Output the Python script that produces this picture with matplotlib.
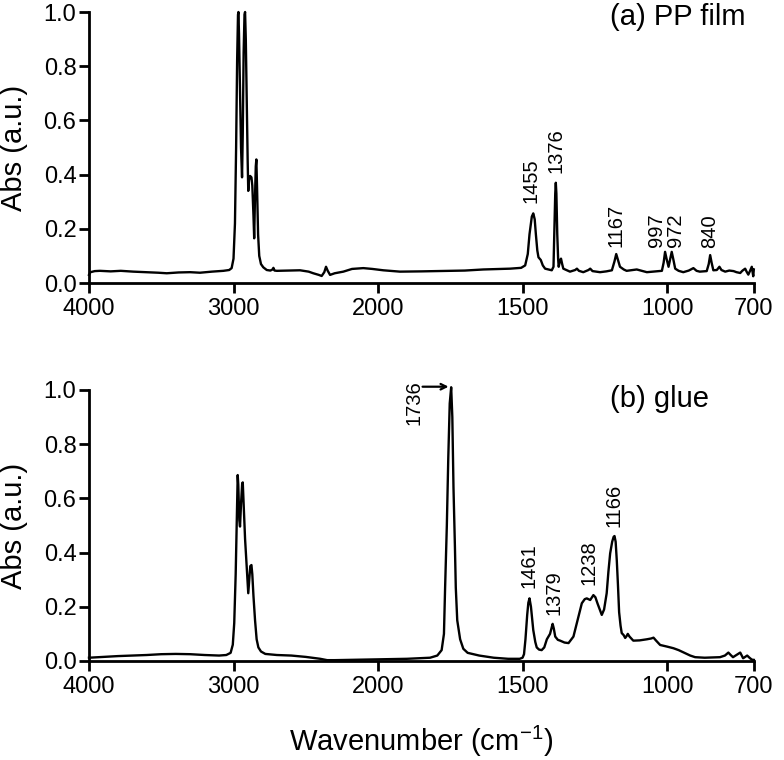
import numpy as np
import matplotlib
matplotlib.use("Agg")
import matplotlib.pyplot as plt
from matplotlib.ticker import FormatStrFormatter

plt.rcParams["font.family"] = ["Liberation Sans", "DejaVu Sans"]
plt.rcParams["mathtext.default"] = "regular"

# (a) PP film spectrum
pp_wn = [4000, 3990, 3960, 3924, 3850, 3780, 3693, 3600, 3520, 3462, 3380, 3300, 3232, 3150,
         3070, 3030, 3013, 3000, 2990, 2982, 2975, 2969, 2966, 2962, 2955, 2948, 2941, 2936,
         2930, 2924, 2920, 2915, 2908, 2902, 2898, 2893, 2885, 2876, 2870, 2862, 2857, 2852,
         2846, 2842, 2837, 2830, 2822, 2810, 2794, 2770, 2745, 2730, 2724, 2716, 2700, 2620,
         2540, 2480, 2448, 2410, 2390, 2372, 2360, 2348, 2332, 2300, 2240, 2180, 2102, 2040,
         1982, 1924, 1850, 1751, 1700, 1636, 1543, 1505, 1491, 1482, 1476, 1468, 1463, 1458,
         1454, 1449, 1445, 1437, 1430, 1422, 1399, 1393, 1390, 1387, 1385, 1383, 1380, 1377,
         1375, 1370, 1367, 1363, 1359, 1336, 1318, 1312, 1305, 1290, 1272, 1266, 1258, 1232,
         1210, 1191, 1182, 1176, 1170, 1163, 1150, 1140, 1105, 1070, 1040, 1018, 1012, 1007,
         1002, 995, 989, 984, 978, 972, 960, 944, 925, 909, 898, 887, 863, 856, 851, 846, 840,
         828, 819, 812, 799, 785, 770, 760, 747, 740, 730, 725, 719, 713, 707, 704, 702, 700]
pp_abs = [0.030, 0.040, 0.044, 0.045, 0.043, 0.045, 0.042, 0.040, 0.038, 0.036, 0.039, 0.040,
          0.038, 0.042, 0.045, 0.048, 0.055, 0.09, 0.22, 0.50, 0.82, 0.99, 1.00, 0.92, 0.70,
          0.50, 0.39, 0.55, 0.85, 0.99, 1.00, 0.90, 0.65, 0.45, 0.34, 0.38, 0.395, 0.39, 0.36,
          0.25, 0.165, 0.30, 0.43, 0.456, 0.35, 0.18, 0.10, 0.07, 0.058, 0.048, 0.046, 0.050,
          0.056, 0.046, 0.045, 0.046, 0.047, 0.042, 0.036, 0.030, 0.026, 0.040, 0.060, 0.045,
          0.030, 0.036, 0.042, 0.052, 0.055, 0.052, 0.047, 0.042, 0.043, 0.045, 0.046, 0.050,
          0.053, 0.056, 0.065, 0.107, 0.18, 0.245, 0.257, 0.235, 0.18, 0.12, 0.095, 0.085,
          0.065, 0.053, 0.047, 0.06, 0.20, 0.33, 0.37, 0.33, 0.18, 0.09, 0.06, 0.085, 0.09,
          0.07, 0.053, 0.042, 0.048, 0.053, 0.045, 0.040, 0.048, 0.053, 0.044, 0.040, 0.043,
          0.047, 0.08, 0.107, 0.085, 0.06, 0.05, 0.045, 0.050, 0.040, 0.043, 0.045, 0.075,
          0.115, 0.09, 0.06, 0.09, 0.115, 0.085, 0.053, 0.045, 0.040, 0.046, 0.055, 0.045,
          0.042, 0.044, 0.07, 0.103, 0.075, 0.047, 0.048, 0.06, 0.048, 0.042, 0.046, 0.044,
          0.040, 0.037, 0.045, 0.053, 0.042, 0.031, 0.045, 0.060, 0.040, 0.025, 0.050]

# (b) glue spectrum
glue_wn = [4000, 3900, 3800, 3700, 3600, 3500, 3400, 3300, 3200, 3100, 3050, 3020, 3005, 2995,
           2985, 2977, 2971, 2967, 2960, 2955, 2948, 2940, 2936, 2930, 2920, 2910, 2903, 2898,
           2890, 2884, 2876, 2870, 2862, 2851, 2840, 2828, 2810, 2780, 2700, 2600, 2500, 2400,
           2352, 2300, 2200, 2100, 2000, 1900, 1820, 1795, 1780, 1772, 1768, 1762, 1757, 1752,
           1747, 1743, 1739, 1734, 1731, 1726, 1716, 1705, 1690, 1650, 1600, 1550, 1510, 1500,
           1495, 1490, 1484, 1480, 1476, 1471, 1463, 1456, 1451, 1443, 1434, 1425, 1416, 1405,
           1400, 1396, 1392, 1387, 1378, 1370, 1355, 1341, 1324, 1310, 1295, 1285, 1278, 1266,
           1260, 1255, 1248, 1241, 1233, 1226, 1218, 1209, 1203, 1197, 1190, 1185, 1182, 1178,
           1174, 1170, 1166, 1161, 1157, 1150, 1145, 1140, 1136, 1130, 1117, 1095, 1070, 1055,
           1047, 1038, 1024, 1000, 978, 960, 940, 920, 903, 870, 840, 817, 800, 788, 780, 772,
           760, 747, 737, 730, 723, 715, 707, 700]
glue_abs = [0.012, 0.015, 0.018, 0.020, 0.022, 0.025, 0.026, 0.025, 0.022, 0.020, 0.022, 0.030,
            0.06, 0.14, 0.32, 0.52, 0.686, 0.65, 0.52, 0.496, 0.58, 0.655, 0.659, 0.58, 0.45,
            0.36, 0.30, 0.25, 0.31, 0.35, 0.354, 0.32, 0.24, 0.15, 0.08, 0.05, 0.035, 0.026,
            0.022, 0.020, 0.015, 0.008, 0.003, 0.003, 0.004, 0.005, 0.006, 0.008, 0.012, 0.020,
            0.040, 0.10, 0.27, 0.50, 0.75, 0.95, 1.01, 0.90, 0.64, 0.42, 0.27, 0.15, 0.08, 0.045,
            0.030, 0.020, 0.012, 0.008, 0.008, 0.012, 0.025, 0.08, 0.17, 0.215, 0.231, 0.20,
            0.114, 0.07, 0.05, 0.042, 0.04, 0.05, 0.08, 0.10, 0.12, 0.137, 0.12, 0.09, 0.078,
            0.075, 0.068, 0.066, 0.09, 0.15, 0.213, 0.228, 0.231, 0.225, 0.235, 0.243, 0.235,
            0.213, 0.19, 0.17, 0.19, 0.25, 0.33, 0.397, 0.44, 0.458, 0.461, 0.44, 0.37, 0.28,
            0.18, 0.13, 0.103, 0.095, 0.085, 0.092, 0.10, 0.09, 0.075, 0.076, 0.08, 0.083, 0.086,
            0.075, 0.059, 0.053, 0.047, 0.04, 0.03, 0.02, 0.014, 0.012, 0.013, 0.014, 0.02,
            0.031, 0.022, 0.014, 0.022, 0.031, 0.01, 0.015, 0.02, 0.012, 0.005, 0.004]

# peak labels: text, x position, bottom of label
pp_labels = ["1455", "1376", "1167", "997", "972", "840"]
pp_label_x = [1471, 1386, 1178, 1036, 971, 853]
pp_label_y = [0.295, 0.405, 0.133, 0.134, 0.134, 0.129]

glue_labels = ["1461", "1379", "1238", "1166", "1736"]
glue_label_x = [1477, 1391, 1270, 1183, 1875]
glue_label_y = [0.268, 0.17, 0.28, 0.496, 0.87]

x_ticks = [4000, 3000, 2000, 1500, 1000, 700]
y_ticks = [0.0, 0.2, 0.4, 0.6, 0.8, 1.0]


# FTIR-style axis: region above 2000 cm-1 compressed by 2
def fwd(x):
    x = np.asarray(x, dtype=float)
    return np.where(x < 2000, x, 2000 + (x - 2000) / 2)


def inv(u):
    u = np.asarray(u, dtype=float)
    return np.where(u < 2000, u, 2000 + (u - 2000) * 2)


def style_ax(ax):
    ax.set_xscale("function", functions=(fwd, inv))
    ax.set_xlim(4000, 700)
    ax.set_ylim(0, 1.0)
    ax.set_xticks(x_ticks)
    ax.set_xticklabels([str(t) for t in x_ticks])
    ax.set_yticks(y_ticks)
    ax.yaxis.set_major_formatter(FormatStrFormatter("%.1f"))
    ax.minorticks_off()
    for s in ["top", "right"]:
        ax.spines[s].set_visible(False)
    for s in ["left", "bottom"]:
        ax.spines[s].set_linewidth(2.0)
    ax.tick_params(axis="both", direction="out", length=7, width=2.0, labelsize=17)
    ax.tick_params(axis="y", pad=2)
    ax.tick_params(axis="x", pad=4)
    ax.set_ylabel("Abs (a.u.)", fontsize=21)
    ax.yaxis.set_label_coords(-0.092, 0.5)


fig = plt.figure(figsize=(7.84, 7.6), dpi=100)
ax1 = fig.add_axes([0.1135, 0.6276, 0.848, 0.3566])
ax2 = fig.add_axes([0.1135, 0.1303, 0.848, 0.3566])

ax1.plot(pp_wn, pp_abs, color="black", lw=1.7, clip_on=False)
ax2.plot(glue_wn, glue_abs, color="black", lw=1.7, clip_on=False)

for ax in (ax1, ax2):
    style_ax(ax)

for t, x, y in zip(pp_labels, pp_label_x, pp_label_y):
    ax1.text(x, y, t, rotation=90, ha="center", va="bottom", fontsize=14.5)
for t, x, y in zip(glue_labels, glue_label_x, glue_label_y):
    ax2.text(x, y, t, rotation=90, ha="center", va="bottom", fontsize=14.5)

ax2.annotate("", xy=(1756, 1.012), xytext=(1846, 1.012), annotation_clip=False,
             arrowprops=dict(arrowstyle="->", lw=1.6, color="black",
                             shrinkA=0, shrinkB=0))

ax1.text(0.783, 1.035, "(a) PP film", transform=ax1.transAxes, ha="left", va="top", fontsize=21)
ax2.text(0.783, 1.02, "(b) glue", transform=ax2.transAxes, ha="left", va="top", fontsize=21)

ax2.set_xlabel("Wavenumber (cm$^{-1}$)", fontsize=21)
ax2.xaxis.set_label_coords(0.5, -0.232)

fig.savefig("out.png", dpi=100)
